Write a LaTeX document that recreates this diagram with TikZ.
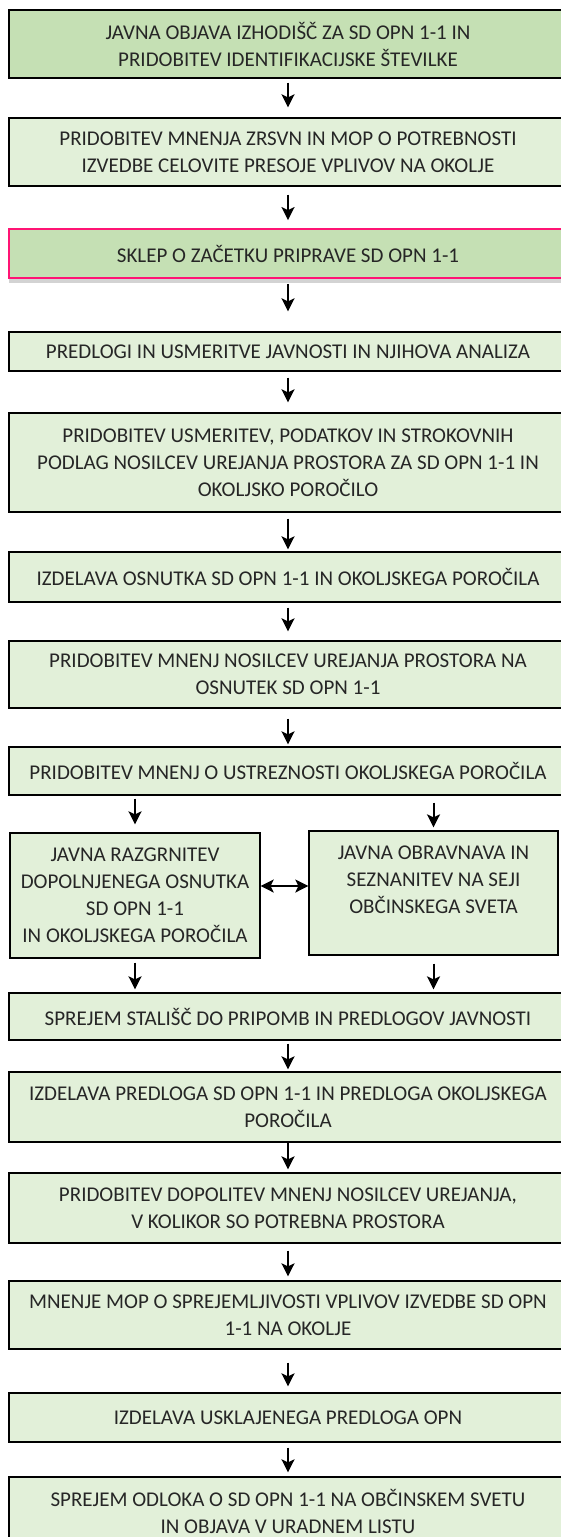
\documentclass[tikz,border=0pt]{standalone}
\usepackage{fontspec}
\setmainfont{Carlito}
\usepackage{tikz}
\usetikzlibrary{arrows.meta, shadows}
\definecolor{lightgreen}{HTML}{E2F0D9}
\definecolor{midgreen}{HTML}{C5E0B4}
\definecolor{hotpink}{HTML}{FF1474}
\definecolor{textgray}{HTML}{262626}

\begin{document}
\begin{tikzpicture}[x=1pt, y=-1pt,
	stepbox/.style={draw=black, line width=1.3pt, fill=lightgreen, text=textgray, align=center, inner sep=0pt, font=\fontsize{21}{27}\selectfont, minimum width=558pt},
	flow/.style={line width=2pt, -{Stealth[length=13pt, width=13pt, inset=3pt]}},
	twoway/.style={line width=2pt, {Stealth[length=13pt, width=13pt, inset=3pt]}-{Stealth[length=13pt, width=13pt, inset=3pt]}}]
							\useasboundingbox (0,0) rectangle (560,1537);
							
							% main column
							\node[stepbox, fill=midgreen, minimum height=68pt] (b1) at (288,44) {JAVNA OBJAVA IZHODIŠČ ZA SD OPN 1-1 IN\\PRIDOBITEV IDENTIFIKACIJSKE ŠTEVILKE};
							\node[stepbox, minimum height=68pt] (b2) at (288,152) {PRIDOBITEV MNENJA ZRSVN IN MOP O POTREBNOSTI\\IZVEDBE CELOVITE PRESOJE VPLIVOV NA OKOLJE};
							\node[stepbox, fill=midgreen, draw=hotpink, line width=1.8pt, minimum height=49pt, drop shadow={shadow xshift=0pt, shadow yshift=-5pt, opacity=0.35}] (b3) at (288,253.5) {SKLEP O ZAČETKU PRIPRAVE SD OPN 1-1};
							\node[stepbox, minimum height=39pt] (b4) at (288,351.5) {PREDLOGI IN USMERITVE JAVNOSTI IN NJIHOVA ANALIZA};
							\node[stepbox, minimum height=99pt] (b5) at (288,462.5) {PRIDOBITEV USMERITEV, PODATKOV IN STROKOVNIH\\PODLAG NOSILCEV UREJANJA PROSTORA ZA SD OPN 1-1 IN\\OKOLJSKO POROČILO};
							\node[stepbox, minimum height=50pt] (b6) at (288,577) {IZDELAVA OSNUTKA SD OPN 1-1 IN OKOLJSKEGA POROČILA};
							\node[stepbox, minimum height=67pt] (b7) at (288,674.5) {PRIDOBITEV MNENJ NOSILCEV UREJANJA PROSTORA NA\\OSNUTEK SD OPN 1-1};
							\node[stepbox, minimum height=48pt] (b8) at (288,771) {PRIDOBITEV MNENJ O USTREZNOSTI OKOLJSKEGA POROČILA};
							
							% two side boxes
							\node[stepbox, minimum width=250pt, minimum height=125pt] (b9l) at (135,895.5) {JAVNA RAZGRNITEV\\DOPOLNJENEGA OSNUTKA\\SD OPN 1-1\\IN OKOLJSKEGA POROČILA};
							\node[stepbox, minimum width=249pt, minimum height=124pt] (b9r) at (433.5,893) {JAVNA OBRAVNAVA IN\\SEZNANITEV NA SEJI\\OBČINSKEGA SVETA\\\mbox{}};
							
							\node[stepbox, minimum height=47pt] (b10) at (288,1016.5) {SPREJEM STALIŠČ DO PRIPOMB IN PREDLOGOV JAVNOSTI};
							\node[stepbox, minimum height=70pt] (b11) at (288,1107) {IZDELAVA PREDLOGA SD OPN 1-1 IN PREDLOGA OKOLJSKEGA\\POROČILA};
							\node[stepbox, minimum height=70pt] (b12) at (288,1208) {PRIDOBITEV DOPOLITEV MNENJ NOSILCEV UREJANJA,\\V KOLIKOR SO POTREBNA PROSTORA};
							\node[stepbox, minimum height=68pt] (b13) at (288,1315) {MNENJE MOP O SPREJEMLJIVOSTI VPLIVOV IZVEDBE SD OPN\\1-1 NA OKOLJE};
							\node[stepbox, minimum height=49pt] (b14) at (288,1417.5) {IZDELAVA USKLAJENEGA PREDLOGA OPN};
							\node[stepbox, minimum height=69pt] (b15) at (288,1511.5) {SPREJEM ODLOKA O SD OPN 1-1 NA OBČINSKEM SVETU\\IN OBJAVA V URADNEM LISTU};
							
							% arrows
							\foreach \a/\b/\s/\e in {b1/b2/4pt/10pt, b2/b3/8pt/8pt, b3/b4/5pt/20pt, b4/b5/6pt/10pt, b5/b6/6pt/2pt, b6/b7/5pt/9pt, b7/b8/10pt/2pt, b10/b11/3pt/2pt, b11/b12/0pt/3pt, b12/b13/7pt/4pt, b13/b14/13pt/6pt, b14/b15/5pt/4pt}
							\draw[flow, shorten <=\s, shorten >=\e] (\a) -- (\b);
							
							\draw[flow, shorten <=3pt, shorten >=8pt] (b8.south -| b9l) -- (b9l);
							\draw[flow, shorten <=7pt, shorten >=3pt] (b8.south -| b9r) -- (b9r);
							\draw[twoway] ([yshift=9.5pt]b9l.east) -- ([yshift=9.5pt]b9l.east -| b9r.west);
							\draw[flow, shorten <=4pt, shorten >=3pt] (b9l) -- (b10.north -| b9l);
							\draw[flow, shorten <=8pt, shorten >=3pt] (b9r) -- (b10.north -| b9r);
							\end{tikzpicture}
\end{document}
